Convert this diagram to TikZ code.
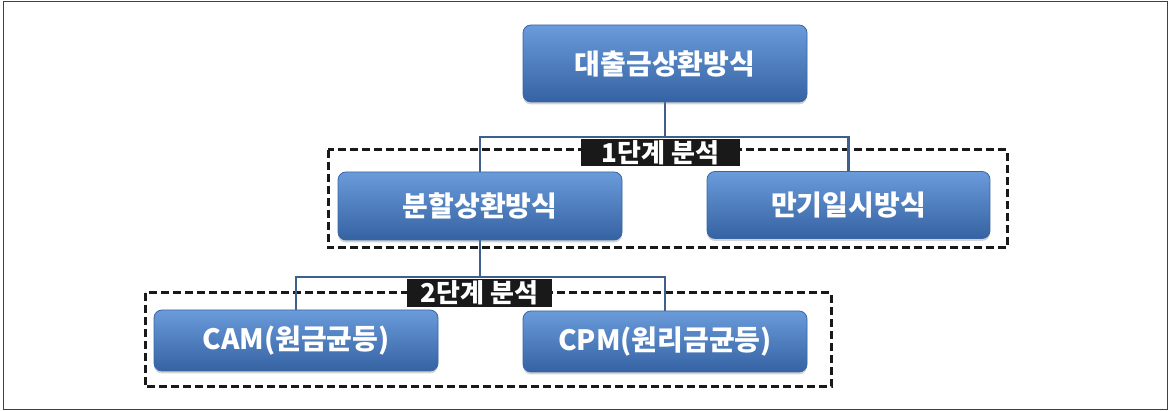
\documentclass[tikz,border=0pt]{standalone}
\usepackage{fontspec}
\newfontfamily\kr{Noto Sans CJK KR}
\usetikzlibrary{shadows}
\definecolor{boxtop}{HTML}{6A9BDA}
\definecolor{boxmid}{HTML}{4A7EC2}
\definecolor{boxbot}{HTML}{3562A2}
\definecolor{boxedge}{HTML}{3A66A3}
\definecolor{conn}{HTML}{3F5F8C}
\pgfdeclarelayer{bg}
\pgfsetlayers{bg,main}
\begin{document}
\begin{tikzpicture}[x=1pt,y=-1pt,
  bluebox/.style={rounded corners=8pt, draw=boxedge, line width=0.8pt,
    top color=boxtop, middle color=boxmid, bottom color=boxbot,
    text=white, font=\kr\bfseries\fontsize{28}{32}\selectfont,
    minimum width=284pt, inner sep=0pt,
    drop shadow={opacity=0.35, shadow xshift=0pt, shadow yshift=-2.5pt}},
  stagelabel/.style={fill=black!90, text=white, inner sep=0pt,
    font=\kr\bfseries\fontsize{26}{30}\selectfont},
  groupbox/.style={draw=black!90, line width=3pt, dash pattern=on 8pt off 4pt},
  connector/.style={draw=conn, line width=2.2pt}]
\useasboundingbox (0,0) rectangle (1170,411);
\draw[black!75, line width=1.6pt] (3.5,1.5) rectangle (1167.5,409.5);

\node[bluebox, minimum height=77pt] (top) at (665,63.5) {대출금상환방식};
\node[bluebox, minimum height=68pt] (b1) at (480,206) {분할상환방식};
\node[bluebox, minimum height=67pt, minimum width=283pt] (b2) at (848.5,205) {만기일시방식};
\node[bluebox, minimum height=61pt] (cam) at (296,340.5) {CAM(원금균등)};
\node[bluebox, minimum height=61pt] (cpm) at (665,341.5) {CPM(원리금균등)};

\node[stagelabel, minimum width=159pt, minimum height=27pt] (l1) at (660.5,152.5) {1단계 분석};
\node[stagelabel, minimum width=145pt, minimum height=28pt] (l2) at (479.5,293) {2단계 분석};

\coordinate (j1) at (665,137);
\coordinate (j2) at (480,277);

\begin{pgfonlayer}{bg}
\draw[groupbox] (328,150) rectangle (1007,248);
\draw[groupbox] (145,293) rectangle (831,387);
\draw[connector] (top.south) -- (j1);
\draw[connector] (b1.north) |- (j1) -| (b2.north);
\draw[connector] (b1.south) -- (j2);
\draw[connector] (cam.north) |- (j2) -| (cpm.north);
\end{pgfonlayer}
\end{tikzpicture}
\end{document}
